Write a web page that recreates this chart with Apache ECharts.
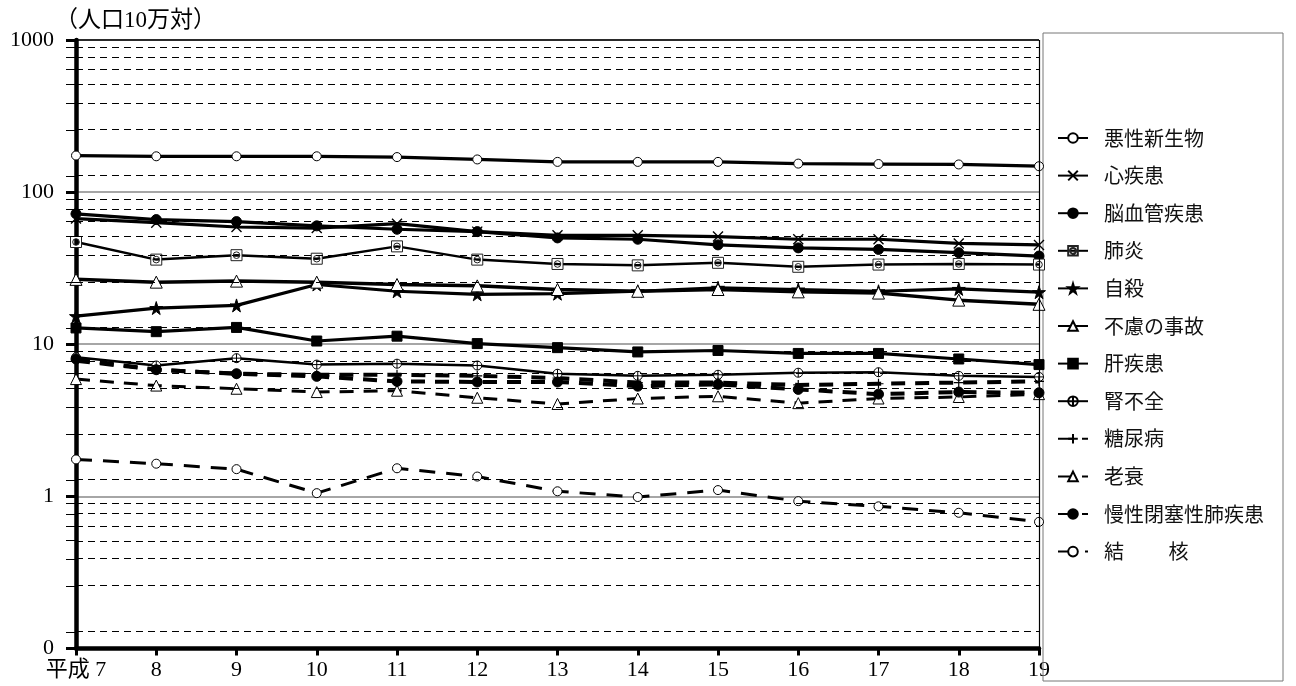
<!DOCTYPE html>
<html>
<head>
<meta charset="utf-8">
<script src="https://cdn.jsdelivr.net/npm/echarts@6/dist/echarts.min.js"></script>
<style>
  html, body { margin: 0; padding: 0; background: #fff; }
  #chart { width: 1296px; height: 686px; }
</style>
</head>
<body>
<div id="chart"></div>
<script>
// 年次（平成）
const years = ['平成 7', '8', '9', '10', '11', '12', '13', '14', '15', '16', '17', '18', '19'];

// 死因別死亡率（人口10万対）
const akusei     = [174, 172, 172, 172, 170, 164, 158, 158, 158, 154, 153, 152, 148];
const shinshikkan = [67, 63, 59, 58, 62, 55, 52, 52, 51, 49, 49, 46, 45];
const noukekkan  = [72, 66, 64, 60, 57, 55, 50, 49, 45, 43, 42, 40, 38];
const haien      = [47, 36, 38.5, 36.5, 44, 36, 33.7, 33, 34.3, 32.3, 33.4, 33.7, 33.4];
const jisatsu    = [15.3, 17.3, 18, 24.7, 22.3, 21.3, 21.5, 22.3, 23.5, 22.9, 22.3, 23.1, 22];
const furyo      = [26.7, 25.6, 26, 25.6, 24.7, 24.2, 22.9, 22.3, 22.9, 22.1, 21.7, 19.5, 18.3];
const kanshikkan = [12.8, 12.1, 12.9, 10.5, 11.3, 10.1, 9.5, 8.9, 9.1, 8.7, 8.7, 8.0, 7.35];
const jinfuzen   = [8.2, 7.25, 8.1, 7.35, 7.45, 7.25, 6.4, 6.2, 6.3, 6.5, 6.55, 6.2, 6.1];
const tonyo      = [7.8, 6.8, 6.4, 6.3, 6.3, 6.2, 6.0, 5.6, 5.6, 5.4, 5.5, 5.6, 5.7];
const rosui      = [5.9, 5.35, 5.1, 4.85, 4.95, 4.45, 4.05, 4.4, 4.55, 4.1, 4.4, 4.5, 4.7];
const copd       = [8.0, 6.8, 6.4, 6.15, 5.7, 5.65, 5.65, 5.3, 5.45, 5.05, 4.7, 4.85, 4.8];
const kekkaku    = [1.75, 1.64, 1.51, 1.05, 1.53, 1.35, 1.08, 0.99, 1.1, 0.93, 0.86, 0.78, 0.68];

// 目盛り：各桁の補助線（桁の何倍か）
const decades = [0.1, 1, 10, 100];
const minorSteps = [1.2857, 2.5714, 3.8571, 5.1429, 6.4286, 7.7143, 9.0];
const minorValues = [];
decades.forEach(d => minorSteps.forEach(s => minorValues.push(d * s)));

const serifFont = "'Liberation Serif', 'Noto Sans CJK JP', serif";
const sansFont = "'Noto Sans CJK JP', sans-serif";

// 記号
const STAR = 'path://M50,0 L61,35 L98,35 L68,57 L79,91 L50,70 L21,91 L32,57 L2,35 L39,35 Z';
const CROSS_X = 'path://M0,0 L10,10 M10,0 L0,10';
const PLUS = 'path://M5,0 L5,10 M0,5 L10,5';
const SQUARE_CIRCLE = 'path://M0,0 H10 V10 H0 Z M2,5 A3,3 0 1,0 8,5 A3,3 0 1,0 2,5 Z';
const CIRCLE_PLUS = 'path://M0,5 A5,5 0 1,0 10,5 A5,5 0 1,0 0,5 Z M5,0 V10 M0,5 H10';

function mk(name, data, symbol, opts) {
  const o = Object.assign({
    size: 9, fill: '#fff', border: '#000', bw: 1, width: 3.2, dash: 'solid'
  }, opts || {});
  return {
    name: name,
    type: 'line',
    data: data,
    symbol: symbol,
    symbolSize: o.size,
    showSymbol: true,
    silent: true,
    lineStyle: { color: '#000', width: o.width, type: o.dash },
    itemStyle: { color: o.fill, borderColor: o.border, borderWidth: o.bw },
    emphasis: { disabled: true },
    z: o.z || 3
  };
}

const series = [
  mk('悪性新生物', akusei, 'circle', { size: 9 }),
  mk('心疾患', shinshikkan, CROSS_X, { size: 10, bw: 1.4 }),
  mk('脳血管疾患', noukekkan, 'circle', { size: 10, fill: '#000' }),
  mk('肺炎', haien, SQUARE_CIRCLE, { size: 11, border: '#222', width: 2.5 }),
  mk('自殺', jisatsu, STAR, { size: 13, fill: '#000' }),
  mk('不慮の事故', furyo, 'triangle', { size: 12, width: 3.5 }),
  mk('肝疾患', kanshikkan, 'rect', { size: 10, fill: '#000' }),
  mk('腎不全', jinfuzen, CIRCLE_PLUS, { size: 9, width: 2.5 }),
  mk('糖尿病', tonyo, PLUS, { size: 10, bw: 1.2, width: 4, dash: [14, 10] }),
  mk('老衰', rosui, 'triangle', { size: 11, width: 3, dash: [14, 10] }),
  mk('慢性閉塞性肺疾患', copd, 'circle', { size: 10, fill: '#000', width: 4, dash: [14, 10] }),
  mk('結　　 核', kekkaku, 'circle', { size: 9, width: 3, dash: [16, 11] })
];

// 補助線・上端線・右端線
series[0].markLine = {
  silent: true,
  symbol: 'none',
  label: { show: false },
  animation: false,
  data: minorValues.map(v => ({
    yAxis: v,
    lineStyle: { color: '#000', width: 1, type: [7, 5] }
  })).concat([
    { yAxis: 1000, lineStyle: { color: '#000', width: 1.5, type: 'solid' } },
    { xAxis: '19', lineStyle: { color: '#000', width: 1.2, type: 'solid' } }
  ])
};

const chart = echarts.init(document.getElementById('chart'), null, { renderer: 'canvas' });

chart.setOption({
  animation: false,
  backgroundColor: '#fff',
  title: {
    text: '（人口10万対）',
    left: 50,
    top: 4,
    textStyle: { fontFamily: serifFont, fontSize: 23, fontWeight: 'normal', color: '#000' }
  },
  grid: { left: 76, right: 257, top: 40, bottom: 37.5, containLabel: false },
  xAxis: {
    type: 'category',
    data: years,
    boundaryGap: false,
    axisLine: { onZero: false, lineStyle: { color: '#000', width: 4.5 } },
    axisTick: { show: true, length: 7, lineStyle: { color: '#000', width: 3 } },
    axisLabel: { margin: 11, color: '#000', fontFamily: serifFont, fontSize: 22 },
    splitLine: { show: false }
  },
  yAxis: {
    type: 'log',
    logBase: 10,
    min: 0.1,
    max: 1000,
    axisLine: { show: true, lineStyle: { color: '#000', width: 4.5 } },
    axisTick: { show: true, length: 10, lineStyle: { color: '#000', width: 3 } },
    axisLabel: {
      margin: 22,
      color: '#000',
      fontFamily: serifFont,
      fontSize: 22,
      formatter: v => (v < 0.5 ? '0' : String(Math.round(v)))
    },
    splitLine: { show: true, lineStyle: { color: '#888', width: 1.5 } }
  },
  legend: {
    orient: 'vertical',
    left: 1052,
    top: 123,
    itemWidth: 30,
    itemHeight: 12,
    itemGap: 17.6,
    selectedMode: false,
    textStyle: {
      fontFamily: sansFont,
      fontSize: 20,
      lineHeight: 20,
      color: '#111',
      padding: [0, 0, 0, 11]
    },
    data: series.map(s => s.name)
  },
  series: series
});

// 凡例枠と縦軸の補助目盛り
const axisX = chart.convertToPixel({ xAxisIndex: 0 }, 0);
const graphics = [{
  type: 'rect',
  silent: true,
  shape: { x: 1043, y: 33, width: 240, height: 648 },
  style: { fill: null, stroke: '#777', lineWidth: 1 },
  z: 1
}];
minorValues.forEach(v => {
  const y = Math.round(chart.convertToPixel({ yAxisIndex: 0 }, v)) + 0.5;
  graphics.push({
    type: 'line',
    silent: true,
    shape: { x1: axisX - 10, y1: y, x2: axisX, y2: y },
    style: { stroke: '#000', lineWidth: 1 },
    z: 10
  });
});
chart.setOption({ graphic: graphics });
</script>
</body>
</html>
